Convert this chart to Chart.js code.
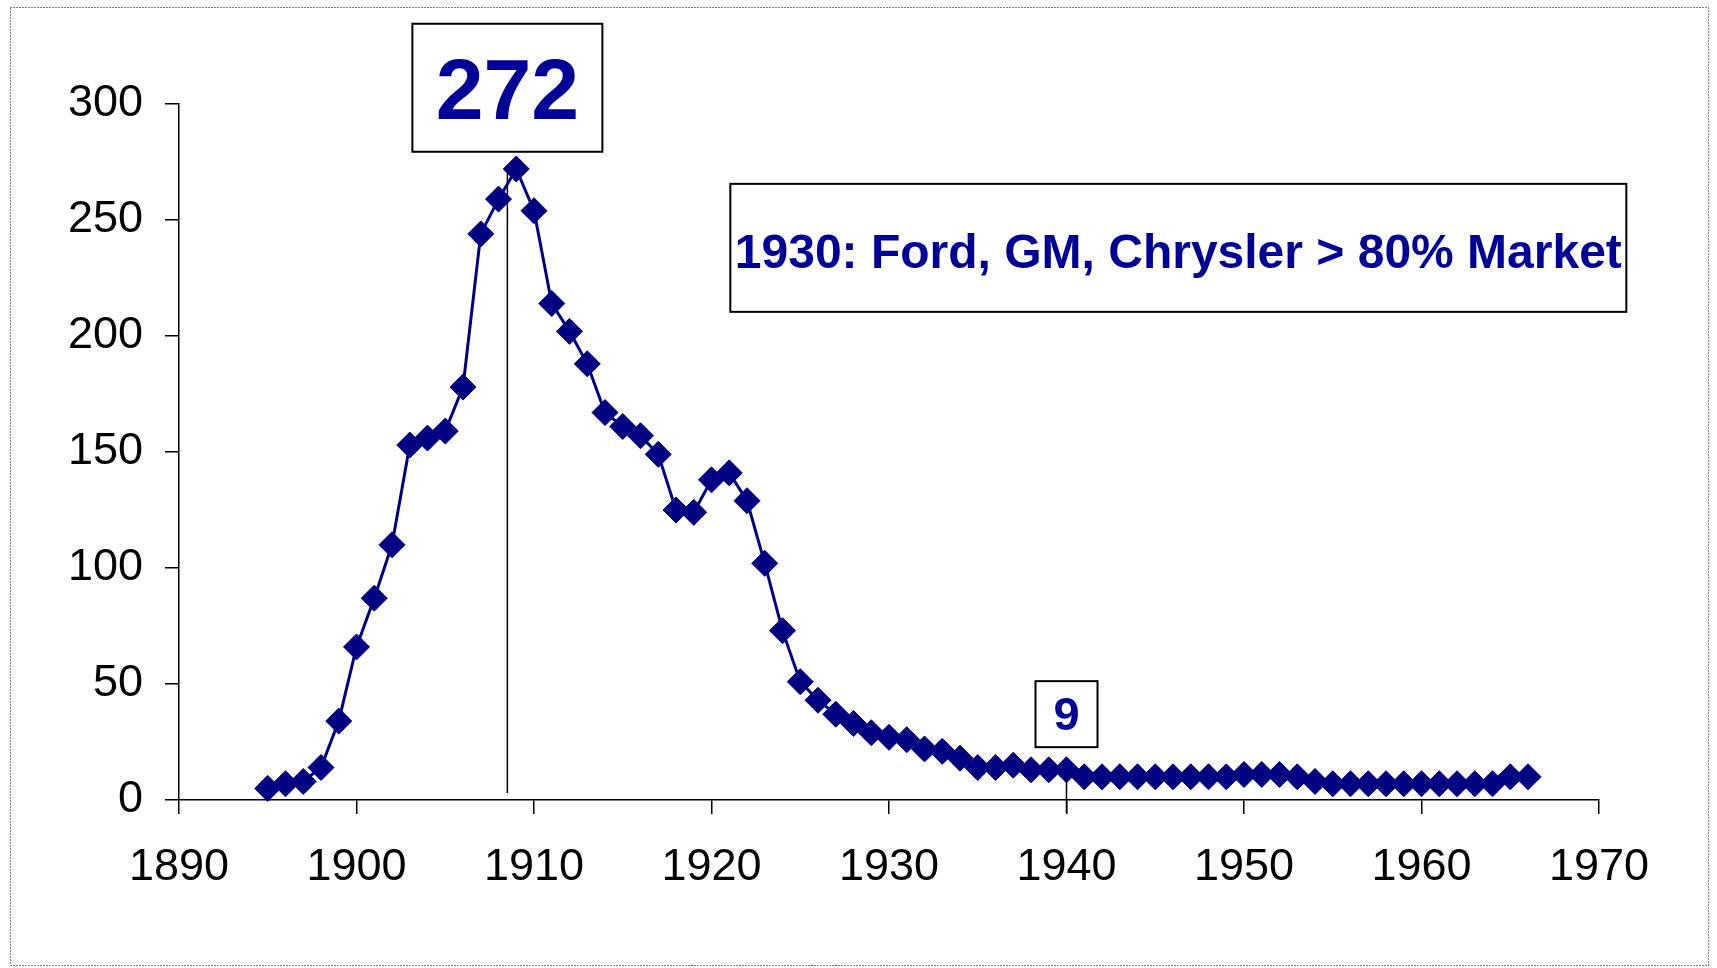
<!DOCTYPE html>
<html>
<head>
<meta charset="utf-8">
<script src="https://cdn.jsdelivr.net/npm/chart.js@4/dist/chart.umd.min.js"></script>
<style>
  html, body { margin: 0; padding: 0; background: #fff; }
  canvas { display: block; }
</style>
</head>
<body>
<canvas id="chart" width="1717" height="968"></canvas>
<script>
const years = [
  1895, 1896, 1897, 1898, 1899, 1900, 1901, 1902, 1903, 1904,
  1905, 1906, 1907, 1908, 1909, 1910, 1911, 1912, 1913, 1914,
  1915, 1916, 1917, 1918, 1919, 1920, 1921, 1922, 1923, 1924,
  1925, 1926, 1927, 1928, 1929, 1930, 1931, 1932, 1933, 1934,
  1935, 1936, 1937, 1938, 1939, 1940, 1941, 1942, 1943, 1944,
  1945, 1946, 1947, 1948, 1949, 1950, 1951, 1952, 1953, 1954,
  1955, 1956, 1957, 1958, 1959, 1960, 1961, 1962, 1963, 1964,
  1965, 1966
];
const makers = [
  5, 7, 8, 14, 34, 66, 87, 110, 153, 156,
  159, 178, 244, 259, 272, 254, 214, 202, 188, 167,
  161, 157, 149, 125, 124, 138, 141, 129, 102, 73,
  51, 43, 37, 33, 29, 27, 26, 22, 21, 18,
  14, 14, 15, 13, 13, 13, 10, 10, 10, 10,
  10, 10, 10, 10, 10, 11, 11, 11, 10, 8,
  7, 7, 7, 7, 7, 7, 7, 7, 7, 7,
  10, 10
];
const xTicks = [1890, 1900, 1910, 1920, 1930, 1940, 1950, 1960, 1970];
const yTicks = [0, 50, 100, 150, 200, 250, 300];

const peakLabel = '272';
const lowLabel = '9';
const marketNote = '1930: Ford, GM, Chrysler > 80% Market';

const FONT = '"Liberation Sans", Arial, sans-serif';
const NAVY = '#000080';
const TEXT_BLUE = '#000099';

// boxes: center in data units, size and text nudge in px
const notes = [
  { text: peakLabel, cx: 1908.5, cy: 307, w: 190, h: 128, size: 86, dy: 8, line: [272, 3], lineOver: false },
  { text: lowLabel, cx: 1940, cy: 37, w: 62, h: 66, size: 47, dy: 3, line: [10, -5.6], lineOver: true },
  { text: marketNote, cx: 1946.3, cy: 238, w: 896, h: 128, size: 48, dy: 7, line: null }
];

const drawBox = (ctx, chart, n) => {
  const x = chart.scales.x.getPixelForValue(n.cx);
  const y = chart.scales.y.getPixelForValue(n.cy);
  ctx.save();
  ctx.fillStyle = '#fff';
  ctx.fillRect(x - n.w / 2, y - n.h / 2, n.w, n.h);
  ctx.strokeStyle = '#000';
  ctx.lineWidth = 2;
  ctx.strokeRect(x - n.w / 2, y - n.h / 2, n.w, n.h);
  ctx.fillStyle = TEXT_BLUE;
  ctx.font = `bold ${n.size}px ${FONT}`;
  ctx.textAlign = 'center';
  ctx.textBaseline = 'middle';
  ctx.fillText(n.text, x, y + n.dy);
  ctx.restore();
};

const drawLine = (ctx, chart, n) => {
  const x = chart.scales.x.getPixelForValue(n.cx);
  ctx.save();
  ctx.strokeStyle = '#000';
  ctx.lineWidth = 1.5;
  ctx.beginPath();
  ctx.moveTo(x, chart.scales.y.getPixelForValue(n.line[0]));
  ctx.lineTo(x, chart.scales.y.getPixelForValue(n.line[1]));
  ctx.stroke();
  ctx.restore();
};

const notesPlugin = {
  id: 'notes',
  beforeDraw(chart) {
    const ctx = chart.ctx;
    ctx.save();
    ctx.fillStyle = '#fff';
    ctx.fillRect(0, 0, chart.width, chart.height);
    ctx.strokeStyle = '#000';
    ctx.lineWidth = 1;
    ctx.setLineDash([1, 2]);
    ctx.strokeRect(10.5, 7.5, 1698, 958);
    ctx.restore();
  },
  beforeDatasetsDraw(chart) {
    notes.filter(n => n.line && !n.lineOver).forEach(n => drawLine(chart.ctx, chart, n));
  },
  afterDatasetsDraw(chart) {
    notes.filter(n => n.line && n.lineOver).forEach(n => drawLine(chart.ctx, chart, n));
    notes.forEach(n => drawBox(chart.ctx, chart, n));
  }
};

new Chart(document.getElementById('chart'), {
  type: 'line',
  data: {
    datasets: [{
      data: years.map((yr, i) => ({ x: yr, y: makers[i] })),
      borderColor: NAVY,
      borderWidth: 3,
      backgroundColor: NAVY,
      pointStyle: 'rectRot',
      pointRadius: 13,
      pointBorderWidth: 1,
      pointBackgroundColor: NAVY,
      pointBorderColor: NAVY,
      tension: 0,
      clip: false
    }]
  },
  options: {
    responsive: false,
    animation: false,
    devicePixelRatio: 1,
    layout: { padding: { top: 104, right: 118, bottom: 0, left: 0 } },
    plugins: {
      legend: { display: false },
      tooltip: { enabled: false }
    },
    scales: {
      x: {
        type: 'linear',
        min: xTicks[0],
        max: xTicks[xTicks.length - 1],
        afterBuildTicks: (s) => { s.ticks = xTicks.map(v => ({ value: v })); },
        afterFit: (s) => { s.height = 168; },
        border: { display: true, color: '#000', width: 1.5 },
        grid: { drawOnChartArea: false, drawTicks: true, tickLength: 14, color: '#000', lineWidth: 1.5 },
        ticks: {
          color: '#000',
          padding: 27,
          maxRotation: 0,
          font: { family: FONT, size: 45 },
          callback: (v) => String(v)
        }
      },
      y: {
        min: yTicks[0],
        max: yTicks[yTicks.length - 1],
        afterBuildTicks: (s) => { s.ticks = yTicks.map(v => ({ value: v })); },
        afterFit: (s) => { s.width = 179; },
        border: { display: true, color: '#000', width: 1.5 },
        grid: { drawOnChartArea: false, drawTicks: true, tickLength: 14, color: '#000', lineWidth: 1.5 },
        ticks: {
          color: '#000',
          padding: 22,
          font: { family: FONT, size: 45 }
        }
      }
    }
  },
  plugins: [notesPlugin]
});
</script>
</body>
</html>
